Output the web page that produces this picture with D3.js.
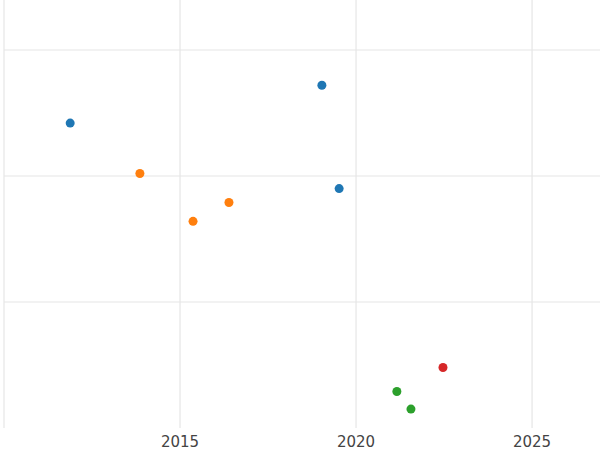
<!DOCTYPE html>
<html><head><meta charset="utf-8">
<script src="https://cdn.jsdelivr.net/npm/d3@7"></script>
<style>body{margin:0;background:#fff}</style>
</head><body>
<div id="chart"></div>
<script>
const groups = ["A", "B", "C", "D"];
const colors = ["#1f77b4", "#ff7f0e", "#2ca02c", "#d62728"];
const years = [2011.88, 2019.03, 2019.52, 2013.86, 2015.37, 2016.39, 2021.16, 2021.56, 2022.47];
const values = [2.42, 2.72, 1.90, 2.02, 1.64, 1.79, 0.29, 0.15, 0.48];
const groupOf = ["A", "A", "A", "B", "B", "B", "C", "C", "D"];
const xTicks = [2010, 2015, 2020, 2025];
const yTicks = [0, 1, 2, 3];

const width = 600, height = 450;
const svg = d3.select("#chart").append("svg")
    .attr("width", width).attr("height", height);

const x = d3.scaleLinear().domain([2010, 2026.93]).range([4, 600]);
const y = d3.scaleLinear().domain([0, 3]).range([428, 50]);
const color = d3.scaleOrdinal().domain(groups).range(colors);

// grid
svg.append("g").selectAll("line").data(xTicks).enter().append("line")
    .attr("x1", d => x(d)).attr("x2", d => x(d))
    .attr("y1", 0).attr("y2", 428)
    .attr("stroke", "#e6e6e6").attr("stroke-width", 1.2);
svg.append("g").selectAll("line").data(yTicks.slice(1)).enter().append("line")
    .attr("x1", 4).attr("x2", 600)
    .attr("y1", d => y(d)).attr("y2", d => y(d))
    .attr("stroke", "#e6e6e6").attr("stroke-width", 1.2);

// x labels
svg.append("g").selectAll("text").data(xTicks.slice(1)).enter().append("text")
    .attr("x", d => x(d)).attr("y", 447)
    .attr("text-anchor", "middle")
    .style("font-family", "DejaVu Sans").style("font-size", "15px")
    .style("fill", "#444")
    .text(d => d);

// points
const data = years.map((yr, i) => ({ yr, v: values[i], g: groupOf[i] }));
svg.append("g").selectAll("circle").data(data).enter().append("circle")
    .attr("cx", d => x(d.yr)).attr("cy", d => y(d.v))
    .attr("r", 4.5)
    .attr("fill", d => color(d.g));
</script>
</body></html>
